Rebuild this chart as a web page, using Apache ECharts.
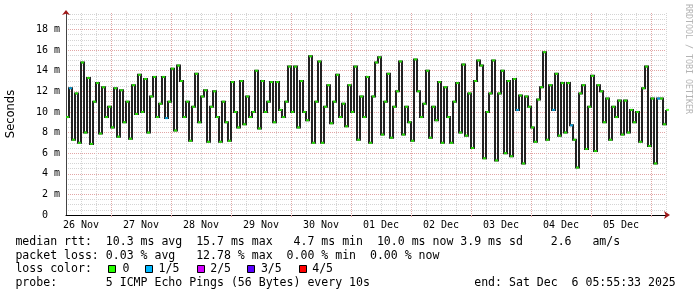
<!DOCTYPE html>
<html><head><meta charset="utf-8">
<script src="https://cdn.jsdelivr.net/npm/echarts@6/dist/echarts.min.js"></script>
<style>html,body{margin:0;padding:0;background:#fff}#c{width:697px;height:297px}</style>
</head><body><div id="c"></div>
<script>
// median RTT (ms), one value every 1.2 h starting 26 Nov 06:00
const medianMs = [
  9.5, 12.3, 7.3, 11.8, 7.0, 14.8, 8.0, 13.3, 6.9, 11.0,
  12.8, 7.9, 12.4, 9.5, 10.5, 8.5, 12.3, 7.6, 12.1, 9.0,
  11.0, 7.4, 12.6, 9.8, 13.6, 10.0, 13.2, 8.0, 11.5, 13.4,
  9.5, 10.8, 13.4, 9.4, 11.0, 14.2, 8.2, 14.5, 13.0, 9.5,
  11.0, 7.2, 10.5, 13.7, 9.0, 11.5, 12.1, 7.1, 10.5, 12.0,
  9.5, 7.1, 11.0, 9.0, 7.2, 12.9, 10.0, 8.5, 13.0, 8.8,
  11.5, 9.5, 10.0, 14.0, 8.4, 13.0, 10.0, 11.0, 12.9, 9.0,
  12.9, 10.2, 9.5, 11.0, 14.4, 10.0, 14.4, 8.5, 13.0, 10.0,
  9.2, 15.4, 7.0, 11.0, 14.9, 7.0, 10.5, 12.6, 8.9, 11.0,
  13.6, 9.5, 10.8, 8.6, 12.6, 10.0, 14.4, 7.3, 11.5, 9.5,
  13.4, 7.0, 11.5, 14.8, 15.3, 7.8, 11.0, 13.7, 7.5, 10.5,
  12.0, 14.9, 7.8, 10.5, 9.0, 7.2, 15.1, 12.0, 9.5, 10.8,
  14.0, 7.5, 10.5, 9.2, 12.9, 7.0, 12.4, 9.5, 7.0, 11.0,
  12.8, 8.0, 14.6, 7.7, 11.8, 6.5, 13.0, 15.0, 14.5, 5.5,
  10.0, 11.8, 15.0, 5.3, 11.8, 14.0, 6.0, 13.0, 5.7, 13.2,
  10.2, 11.6, 5.0, 11.5, 10.5, 8.5, 7.1, 11.2, 12.4, 15.8,
  7.3, 12.6, 10.2, 13.7, 7.7, 12.8, 8.0, 12.8, 8.7, 7.3,
  4.6, 11.8, 12.6, 6.4, 10.5, 13.5, 6.2, 12.6, 12.0, 9.0,
  11.3, 7.3, 10.5, 9.5, 11.1, 7.8, 11.1, 8.0, 10.2, 9.0,
  10.0, 7.1, 12.3, 14.4, 6.7, 11.3, 5.0, 11.3, 11.3, 8.8,
  10.2
];
// indices where 1/5 packets were lost
const loss1Idx = [1, 33, 150, 162, 168, 197];
const dayLabels = ['26 Nov','27 Nov','28 Nov','29 Nov','30 Nov','01 Dec','02 Dec','03 Dec','04 Dec','05 Dec'];
const lossLabels = ['0','1/5','2/5','3/5','4/5'];
const lossColors = ['#26ff00','#00b8ff','#d200ff','#5a00ff','#ff0000'];
const statsLines = [
  'median rtt:  10.3 ms avg  15.7 ms max   4.7 ms min  10.0 ms now 3.9 ms sd    2.6   am/s',
  'packet loss: 0.03 % avg   12.78 % max  0.00 % min  0.00 % now',
  'loss color:',
  'probe:       5 ICMP Echo Pings (56 Bytes) every 10s               end: Sat Dec  6 05:55:33 2025'
];
const categories = medianMs.map((_, i) => i);

const mono = '"DejaVu Sans Mono", monospace';
const gridGrey = '#d4d4d4';
const gridRed = '#e2a6a6';
const arrowRed = '#a01a1a';

const chart = echarts.init(document.getElementById('c'), null, {renderer: 'canvas'});

const graphic = [];
graphic.push({type:'text', x:11, y:114, rotation: Math.PI/2,
  style:{text:'Seconds', font:'11.5px "DejaVu Sans"', fill:'#000', align:'center', verticalAlign:'middle', textAlign:'center', textVerticalAlign:'middle'}});
graphic.push({type:'text', x:688, y:59, rotation: -Math.PI/2,
  style:{text:'RRDTOOL / TOBI OETIKER', font:'8.3px ' + mono, fill:'#b4b4b4', align:'center', verticalAlign:'middle', textAlign:'center', textVerticalAlign:'middle'}});
const lineY = [242, 255.7, 269.4, 283.1];
statsLines.forEach((t, k) => {
  graphic.push({type:'text', x:15.4, y:lineY[k],
    style:{text:t, font:'11.56px ' + mono, fill:'#000', verticalAlign:'middle', textVerticalAlign:'middle'}});
});
const boxX = [108.5, 145.5, 197.5, 247.5, 299.5];
const labX = [122.6, 158.5, 210.2, 260.9, 312.2];
lossLabels.forEach((t, k) => {
  graphic.push({type:'rect', shape:{x:boxX[k], y:265.5, width:7, height:7},
    style:{fill:lossColors[k], stroke:'#000', lineWidth:1}});
  graphic.push({type:'text', x:labX[k], y:lineY[2],
    style:{text:t, font:'11.56px ' + mono, fill:'#000', verticalAlign:'middle', textVerticalAlign:'middle'}});
});

const option = {
  animation: false,
  backgroundColor: '#fff',
  grid: {left: 66, top: 13, width: 600, height: 202, containLabel: false},
  xAxis: [
    {type:'category', data: categories, boundaryGap:false, position:'bottom',
     axisLine:{show:true, lineStyle:{color:'#000', width:1}},
     axisTick:{show:false}, axisLabel:{show:false},
     splitLine:{show:true, interval:(i)=> i % 5 === 0, lineStyle:{color:gridGrey, width:1, type:[1,1]}}},
    {type:'category', data: categories, boundaryGap:false, position:'bottom',
     axisLine:{show:true, symbol:['none','arrow'], symbolSize:[6,6], symbolOffset:[0,4], lineStyle:{color:arrowRed, width:0}},
     axisTick:{show:true, interval:(i)=> i % 20 === 15, length:2, inside:false, lineStyle:{color:gridRed}},
     axisLabel:{show:true, interval:(i)=> i % 20 === 5, margin:5,
       formatter:(v, i)=> dayLabels[(i - 5) / 20] || '', color:'#000', fontFamily:mono, fontSize:10},
     splitLine:{show:true, interval:(i)=> i % 20 === 15, lineStyle:{color:gridRed, width:1, type:[1,1]}}}
  ],
  yAxis: [
    {type:'value', min:0, max:19.6, interval:0.5, position:'left',
     axisLine:{show:true, lineStyle:{color:'#444', width:1}},
     axisTick:{show:false}, axisLabel:{show:false},
     splitLine:{show:true, showMaxLine:false, lineStyle:{color:gridGrey, width:1, type:[1,1]}}},
    {type:'value', min:0, max:19.6, interval:2, position:'left',
     axisLine:{show:true, symbol:['none','arrow'], symbolSize:[6,5], symbolOffset:[0,3], lineStyle:{color:arrowRed, width:0}},
     axisTick:{show:false},
     axisLabel:{show:true, margin:6, color:'#000', fontFamily:mono, fontSize:10, showMaxLabel:false,
       formatter:(v)=> (Math.abs(v % 2) < 1e-6 ? (v === 0 ? '0  ' : v + ' m') : '')},
     splitLine:{show:true, showMaxLine:false, showMinLine:false, lineStyle:{color:gridRed, width:1, type:[1,1]}}}
  ],
  series: [
    {type:'line', xAxisIndex:0, yAxisIndex:0, data: medianMs, step:'end', showSymbol:false,
     lineStyle:{color:'#222', width:2, join:'miter', cap:'butt'}, z:3},
    {type:'scatter', xAxisIndex:0, yAxisIndex:0, symbol:'rect', symbolSize:[3,2], symbolOffset:[1.5,0], z:4,
     data: medianMs.map((v, i) => ({value:v, itemStyle:{color: loss1Idx.includes(i) ? lossColors[1] : lossColors[0]}}))}
  ],
  graphic: graphic
};
chart.setOption(option);
</script>
</body></html>
